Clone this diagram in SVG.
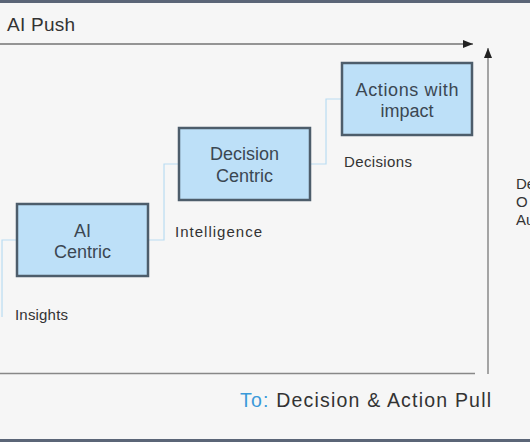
<svg xmlns="http://www.w3.org/2000/svg" width="530" height="442" viewBox="0 0 530 442">
<defs>
<style>
text{font-family:"Liberation Sans","DejaVu Sans",sans-serif;fill:#333}
.box{fill:#bde0f8;stroke:#4d5d6b;stroke-width:2.5}
.bt{font-size:18px;text-anchor:middle;fill:#3b4752}
.lbl{font-size:15px}
.conn{fill:none;stroke:#b9dcf2;stroke-width:1.2}
</style>
<marker id="ah" viewBox="0 0 10 10" refX="10" refY="5" markerWidth="10" markerHeight="10" markerUnits="userSpaceOnUse" orient="auto">
<path d="M0,1 L10,5 L0,9 z" fill="#222"/>
</marker>
</defs>
<rect width="530" height="442" fill="#f6f6f6"/>
<rect width="530" height="3" fill="#5b6577"/>
<rect y="439" width="530" height="3" fill="#5b6577"/>
<g id="axes">
<line x1="0" y1="44" x2="473" y2="44" stroke="#333" stroke-width="1" marker-end="url(#ah)"/>
<line x1="488" y1="374" x2="488" y2="48" stroke="#888" stroke-width="1.5" marker-end="url(#ah)"/>
<line x1="0" y1="373.5" x2="475" y2="373.5" stroke="#888" stroke-width="1.5"/>
</g>
<text x="7" y="31" font-size="19" textLength="68">AI Push</text>
<text x="240" y="407" font-size="19.5" textLength="251"><tspan fill="#3a9ad9">To:</tspan> Decision &amp; Action Pull</text>
<g id="connectors">
<polyline class="conn" points="2,317 2,240 16,240"/>
<polyline class="conn" points="149,240 164,240 164,164 178,164"/>
<polyline class="conn" points="311,164 326,164 326,99 341,99"/>
</g>
<g id="ai-centric">
<rect class="box" x="17" y="204" width="131" height="72"/>
<text class="bt" x="82.5" y="237">AI</text>
<text class="bt" x="82.5" y="258">Centric</text>
</g>
<g id="decision-centric">
<rect class="box" x="179" y="128" width="131" height="72"/>
<text class="bt" x="244.5" y="160">Decision</text>
<text class="bt" x="244.5" y="182">Centric</text>
</g>
<g id="actions-with-impact">
<rect class="box" x="342" y="63" width="130" height="72"/>
<text class="bt" x="407" y="96" textLength="103">Actions with</text>
<text class="bt" x="407" y="117">impact</text>
</g>
<text class="lbl" x="15" y="320" textLength="53">Insights</text>
<text class="lbl" x="175" y="237" textLength="87">Intelligence</text>
<text class="lbl" x="344" y="167" textLength="68">Decisions</text>
<text class="lbl" x="516" y="189">De</text>
<text class="lbl" x="516" y="207">O</text>
<text class="lbl" x="516" y="225">Au</text>
</svg>
